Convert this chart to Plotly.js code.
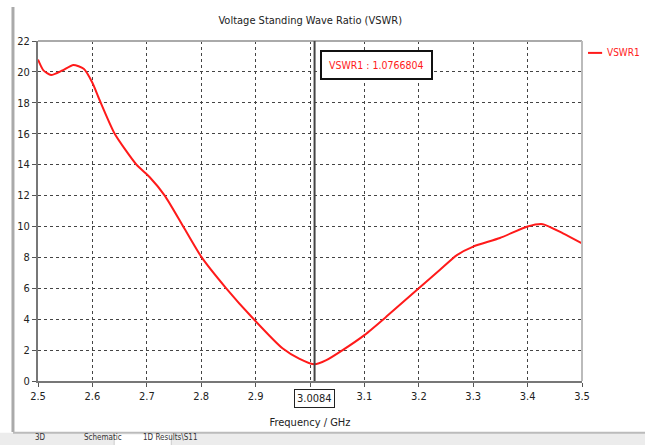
<!DOCTYPE html>
<html>
<head>
<meta charset="utf-8">
<script src="https://cdn.plot.ly/plotly-3.0.1.min.js"></script>
<style>
html,body{margin:0;padding:0;background:#fff;}
#chart{width:645px;height:445px;}
#chart text{font-stretch:condensed !important;}
</style>
</head>
<body>
<div id="chart"></div>
<script>
// Data
const freqGHz = [2.5, 2.51, 2.524, 2.545, 2.565, 2.584, 2.6, 2.613, 2.641, 2.681, 2.705, 2.733, 2.767, 2.8, 2.846, 2.895, 2.95, 2.98, 3.0084, 3.03, 3.06, 3.1, 3.14, 3.2, 3.239, 3.27, 3.3, 3.349, 3.4, 3.428, 3.465, 3.5];
const vswr1   = [20.8, 20.1, 19.8, 20.1, 20.45, 20.2, 19.3, 18.2, 16.0, 14.0, 13.2, 12.0, 10.0, 8.05, 6.0, 4.06, 2.1, 1.45, 1.077, 1.35, 2.0, 2.97, 4.15, 6.0, 7.2, 8.15, 8.7, 9.25, 10.0, 10.15, 9.55, 8.9];
const xTickVals = [2.5, 2.6, 2.7, 2.8, 2.9, 3.0, 3.1, 3.2, 3.3, 3.4, 3.5];
const xTickText = ['2.5', '2.6', '2.7', '2.8', '2.9', '', '3.1', '3.2', '3.3', '3.4', '3.5'];
const yTickVals = [0, 2, 4, 6, 8, 10, 12, 14, 16, 18, 20, 22];
const markerFreq = 3.0084;
const markerLabel = 'VSWR1 : 1.0766804';
const seriesName = 'VSWR1';
const chartTitle = 'Voltage Standing Wave Ratio (VSWR)';
const xTitle = 'Frequency / GHz';
const tabs = ['3D', 'Schematic', '1D Results\\S11'];

const FONT = '"DejaVu Sans Condensed", "DejaVu Sans", sans-serif';
const RED = '#ff1a1a';

const trace = {
  x: freqGHz, y: vswr1, type: 'scatter', mode: 'lines', name: seriesName,
  line: {color: RED, width: 2, shape: 'spline', smoothing: 0.6}
};

const layout = {
  width: 645, height: 445,
  margin: {l: 38, r: 63, t: 41, b: 64, autoexpand: false},
  paper_bgcolor: '#ffffff', plot_bgcolor: '#ffffff',
  font: {family: FONT, size: 11, color: '#222'},
  title: {text: chartTitle, x: 0.481, xanchor: 'center', y: 0.955, yanchor: 'middle', font: {family: FONT, size: 11, color: '#222'}},
  showlegend: false,
  xaxis: {
    range: [2.5, 3.5], tickvals: xTickVals, ticktext: xTickText,
    showgrid: true, gridcolor: '#444', griddash: 'dot', gridwidth: 1,
    showline: true, linecolor: '#777', linewidth: 2, zeroline: false,
    ticks: 'outside', ticklen: 4, tickcolor: '#555',
    tickfont: {family: FONT, size: 11, color: '#222'},
    title: {text: xTitle, font: {family: FONT, size: 11, color: '#222'}, standoff: 16}
  },
  yaxis: {
    range: [0, 22], tickvals: yTickVals,
    showgrid: true, gridcolor: '#444', griddash: 'dot', gridwidth: 1,
    showline: true, linecolor: '#777', linewidth: 2, zeroline: false,
    ticks: 'outside', ticklen: 4, tickcolor: '#555',
    tickfont: {family: FONT, size: 11, color: '#222'}
  },
  shapes: [
    {type: 'line', xref: 'paper', yref: 'paper', x0: 0, x1: 1, y0: 1, y1: 1, line: {color: '#aaa', width: 2}},
    {type: 'line', xref: 'paper', yref: 'paper', x0: 1, x1: 1, y0: 0, y1: 1, line: {color: '#bbb', width: 2}},
    {type: 'line', xref: 'x', yref: 'paper', x0: markerFreq, x1: markerFreq, y0: 0, y1: 1, line: {color: '#444', width: 2}},
    {type: 'line', xref: 'paper', yref: 'paper', x0: -0.046, x1: -0.046, y0: -0.15, y1: 1.1, line: {color: '#aaa', width: 3}},
    {type: 'rect', xref: 'paper', yref: 'paper', x0: -0.08, x1: 1.2, y0: -0.2, y1: -0.152, fillcolor: '#ececec', line: {width: 0}},
    {type: 'line', xref: 'paper', yref: 'paper', x0: -0.046, x1: 1.2, y0: -0.152, y1: -0.152, line: {color: '#bbb', width: 2}},
    {type: 'rect', xref: 'paper', yref: 'paper', x0: 0.14, x1: 0.245, y0: -0.2, y1: -0.155, fillcolor: '#ffffff', line: {color: '#ccc', width: 1}},
    // legend sample line
    {type: 'line', xref: 'paper', yref: 'paper', x0: 1.011, x1: 1.037, y0: 0.965, y1: 0.965, line: {color: RED, width: 2}}
  ],
  annotations: [
    {xref: 'paper', yref: 'paper', x: 1.042, xanchor: 'left', y: 0.965, yanchor: 'middle', text: seriesName, showarrow: false,
     font: {family: FONT, size: 10, color: RED}},
    {xref: 'x', yref: 'y', x: 3.019, xanchor: 'left', y: 20.45, text: markerLabel, showarrow: false,
     font: {family: FONT, size: 10.5, color: RED}, bordercolor: '#111', borderwidth: 2, borderpad: 7, bgcolor: '#fff'},
    {xref: 'x', yref: 'paper', x: markerFreq, y: -0.025, yanchor: 'top', text: '3.0084', showarrow: false,
     font: {family: FONT, size: 11, color: '#222'}, bordercolor: '#222', borderwidth: 1, borderpad: 2, bgcolor: '#fff'},
    {xref: 'paper', yref: 'paper', x: -0.01, y: -0.185, text: tabs[0], showarrow: false, font: {family: FONT, size: 8, color: '#333'}},
    {xref: 'paper', yref: 'paper', x: 0.08, y: -0.185, text: tabs[1], showarrow: false, font: {family: FONT, size: 8, color: '#333'}},
    {xref: 'paper', yref: 'paper', x: 0.19, y: -0.185, text: tabs[2], showarrow: false, font: {family: FONT, size: 8, color: '#333'}}
  ]
};

Plotly.newPlot('chart', [trace], layout, {displayModeBar: false, staticPlot: true});
</script>
</body>
</html>
